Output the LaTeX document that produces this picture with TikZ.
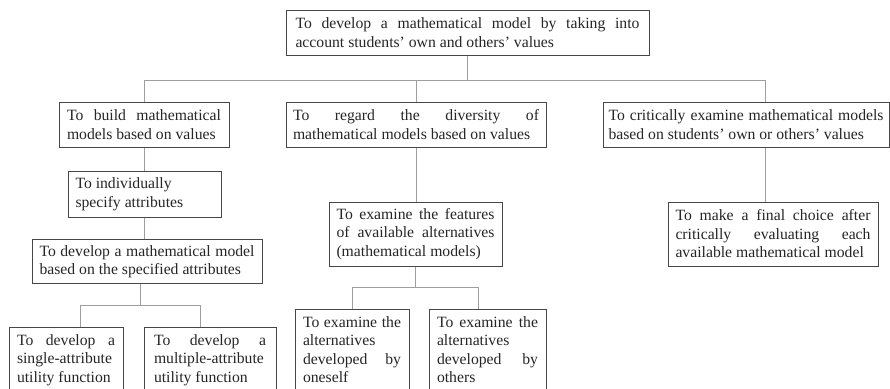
\documentclass[tikz,border=0pt]{standalone}
\usepackage{fontspec}
\setmainfont{Liberation Serif}
\newcommand\jl[1]{\makebox[\hsize][s]{\spaceskip=0pt\xspaceskip=0pt #1}}
\definecolor{boxcol}{gray}{0.28}
\definecolor{linecol}{gray}{0.62}
\definecolor{txtcol}{gray}{0.15}
\tikzset{
  box/.style={draw=boxcol, line width=1pt, text=txtcol,
    inner xsep=0pt, inner ysep=6pt, font=\fontsize{15.7}{18.5}\selectfont,
    execute at begin node={\spaceskip=0pt\xspaceskip=0pt\parindent=0pt}},
  lowbox/.style={box, anchor=north, inner ysep=7pt},
  conn/.style={draw=linecol, line width=0.9pt},
}
\begin{document}
\begin{tikzpicture}[x=1pt,y=-1pt]
\useasboundingbox (0,0) rectangle (890,388);
\clip (0,0) rectangle (890,388);
\fill[white] (0,0) rectangle (890,388);

\node[box, minimum width=363pt, minimum height=45pt, text width=344pt] (top) at (467.5,32.5)
  {\jl{To develop a mathematical model by taking into}\\account students’ own and others’ values};

\node[box, minimum width=170pt, minimum height=45pt, text width=154pt] (b1) at (144,124.5)
  {\jl{To build mathematical}\\models based on values};
\node[box, minimum width=260pt, minimum height=45pt, text width=246pt] (b2) at (416,124.5)
  {\jl{To regard the diversity of}\\mathematical models based on values};
\node[box, minimum width=286pt, minimum height=45pt, text width=275pt] (b3) at (746,124.5)
  {\jl{To critically examine mathematical models}\\based on students’ own or others’ values};

\node[box, minimum width=153pt, minimum height=46pt, text width=138pt] (c1) at (144.5,194)
  {To individually\\specify attributes};
\node[box, minimum width=230pt, minimum height=44pt, text width=215pt] (d1) at (147,261.5)
  {\jl{To develop a mathematical model}\\based on the specified attributes};

\node[lowbox, minimum width=114pt, text width=98pt] (e1) at (66,327)
  {\jl{To develop a}\\single-attribute\\utility function};
\node[lowbox, minimum width=132pt, text width=112pt] (e2) at (210,327)
  {\jl{To develop a}\\multiple-attribute\\utility function};

\node[box, minimum width=173pt, minimum height=64pt, text width=158pt] (c2) at (415.5,234)
  {\jl{To examine the features}\\\jl{of available alternatives}\\(mathematical models)};
\node[lowbox, minimum width=114pt, text width=98pt] (f1) at (352,309)
  {\jl{To examine the}\\alternatives\\\jl{developed by}\\oneself};
\node[lowbox, minimum width=117pt, text width=101pt] (f2) at (487.5,309)
  {\jl{To examine the}\\alternatives\\\jl{developed by}\\others};

\node[box, minimum width=210pt, minimum height=64pt, text width=195pt] (c3) at (773,234)
  {\jl{To make a final choice after}\\\jl{critically evaluating each}\\available mathematical model};

\coordinate (bus0) at (0,80);
\coordinate (bus1) at (0,305);
\coordinate (bus2) at (0,287);

\draw[conn] (top.south) -- (top.south |- bus0) -| (b1.north);
\draw[conn] (top.south) -- (top.south |- bus0) -| (b2.north);
\draw[conn] (top.south) -- (top.south |- bus0) -| ([xshift=19pt]b3.north);

\draw[conn] (b1.south) -- (b1.south |- c1.north);
\draw[conn] (c1.south) -- (c1.south |- d1.north);
\draw[conn] ([xshift=-7pt]d1.south) -- ([xshift=-7pt]d1.south |- bus1) -| ([xshift=14pt]e1.north);
\draw[conn] ([xshift=-7pt]d1.south) -- ([xshift=-7pt]d1.south |- bus1) -| ([xshift=-10pt]e2.north);

\draw[conn] (b2.south) -- (b2.south |- c2.north);
\draw[conn] (c2.south) -- (c2.south |- bus2) -| (f1.north);
\draw[conn] (c2.south) -- (c2.south |- bus2) -| ([xshift=-9.5pt]f2.north);

\draw[conn] ([xshift=19pt]b3.south) -- ([xshift=19pt]b3.south |- c3.north);
\end{tikzpicture}
\end{document}
